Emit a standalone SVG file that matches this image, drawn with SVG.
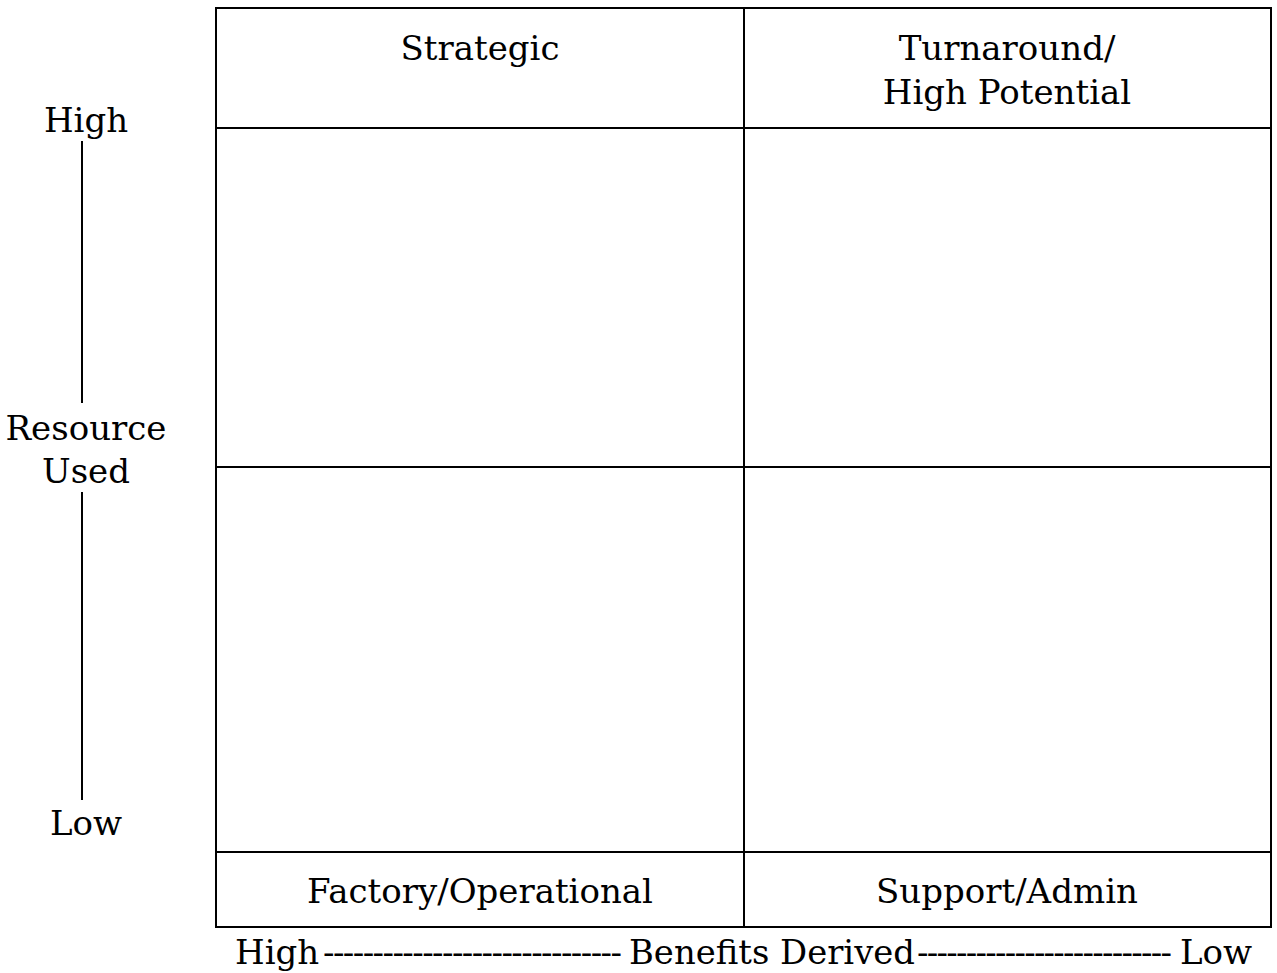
<svg xmlns="http://www.w3.org/2000/svg" width="1277" height="973" viewBox="0 0 1277 973">
<style>
.t{font-family:"DejaVu Serif","Liberation Serif",serif;font-size:34px;fill:#000}
.m{text-anchor:middle}
.ln{stroke:#000;stroke-width:2;fill:none}
</style>
<rect width="1277" height="973" fill="#fff"/>
<g id="grid">
<rect class="ln" x="216" y="8" width="1055" height="919"/>
<line class="ln" x1="744" y1="8" x2="744" y2="927"/>
<line class="ln" x1="216" y1="128" x2="1271" y2="128"/>
<line class="ln" x1="216" y1="467" x2="1271" y2="467"/>
<line class="ln" x1="216" y1="852" x2="1271" y2="852"/>
</g>
<g id="strategic"><text class="t m" x="480" y="60">Strategic</text></g>
<g id="turnaround"><text class="t m" x="1007" y="60">Turnaround/</text><text class="t m" x="1007" y="104">High Potential</text></g>
<g id="factory"><text class="t m" x="480" y="903">Factory/Operational</text></g>
<g id="support"><text class="t m" x="1007" y="903">Support/Admin</text></g>
<g id="y-axis">
<text class="t m" x="86" y="132">High</text>
<text class="t m" x="86" y="440">Resource</text>
<text class="t m" x="86" y="483">Used</text>
<text class="t m" x="86" y="835">Low</text>
<line class="ln" x1="82" y1="141" x2="82" y2="403"/>
<line class="ln" x1="82" y1="492" x2="82" y2="800"/>
</g>
<g id="x-axis">
<text class="t" x="235" y="964">High</text>
<text class="t" x="323" y="964" textLength="299" lengthAdjust="spacing">------------------------------</text>
<text class="t" x="629" y="964" textLength="286" lengthAdjust="spacingAndGlyphs">Benefits Derived</text>
<text class="t" x="917" y="964" textLength="255" lengthAdjust="spacing">--------------------------</text>
<text class="t" x="1180" y="964">Low</text>
</g>
</svg>
